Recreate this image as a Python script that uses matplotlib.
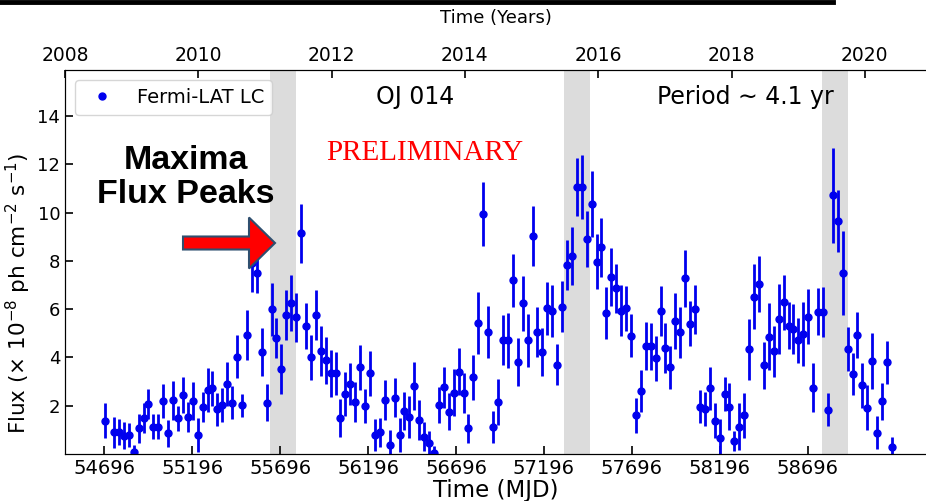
import matplotlib
matplotlib.use('Agg')
import matplotlib.pyplot as plt
import numpy as np
from matplotlib.patches import FancyArrow
from matplotlib.lines import Line2D

# 28 day bins of the Fermi-LAT light curve of OJ 014
mjd = [54700, 54751, 54779, 54807, 54835, 54863, 54891, 54919, 54947, 54975,
       55003, 55031, 55059, 55087, 55115, 55143, 55171, 55199, 55227, 55255,
       55283, 55311, 55339, 55367, 55395, 55423, 55451, 55479, 55507, 55535,
       55563, 55591, 55619, 55647, 55675, 55703, 55731, 55759, 55787, 55815,
       55843, 55871, 55899, 55927, 55955, 55983, 56011, 56039, 56067, 56095,
       56123, 56151, 56179, 56207, 56235, 56263, 56291, 56319, 56347, 56375,
       56403, 56431, 56459, 56487, 56515, 56543, 56571, 56599, 56627, 56655,
       56683, 56711, 56739, 56767, 56795, 56823, 56851, 56879, 56907, 56935,
       56963, 56991, 57019, 57047, 57075, 57103, 57131, 57159, 57187, 57215,
       57243, 57271, 57299, 57327, 57355, 57383, 57411, 57439, 57467, 57495,
       57523, 57551, 57579, 57607, 57635, 57663, 57691, 57719, 57747, 57775,
       57803, 57831, 57859, 57887, 57915, 57943, 57971, 57999, 58027, 58055,
       58083, 58111, 58139, 58167, 58195, 58223, 58251, 58279, 58307, 58335,
       58363, 58391, 58419, 58447, 58475, 58503, 58531, 58559, 58587, 58615,
       58643, 58671, 58699, 58727, 58755, 58783, 58811, 58839, 58867, 58895,
       58923, 58951, 58979, 59007, 59035, 59063, 59091, 59119, 59147, 59175]

flux = [1.38, 0.90, 0.92, 0.76, 0.79, 0.10, 1.06, 1.49, 2.07, 1.13,
        1.13, 2.19, 0.86, 2.22, 1.48, 2.44, 1.52, 2.19, 0.79, 1.96,
        2.65, 2.72, 1.85, 2.03, 2.90, 2.12, 4.03, 2.02, 4.93, 7.91,
        7.52, 4.24, 2.12, 5.99, 4.82, 3.53, 5.76, 6.24, 5.66, 9.14,
        5.30, 4.00, 5.76, 4.27, 3.89, 3.34, 3.34, 1.48, 2.48, 2.90,
        2.17, 3.59, 1.99, 3.34, 0.79, 0.90, 2.24, 0.37, 2.33, 0.79,
        1.78, 1.54, 2.82, 1.41, 0.72, 0.47, 0.05, 2.03, 2.76, 1.75,
        2.54, 3.41, 2.54, 1.06, 3.18, 5.44, 9.94, 5.05, 1.11, 2.14,
        4.72, 4.72, 7.20, 3.82, 6.24, 4.72, 9.03, 5.06, 4.24, 6.03,
        5.93, 3.69, 6.10, 7.83, 8.20, 11.07, 11.07, 8.89, 10.35, 7.96,
        8.56, 5.83, 7.34, 6.86, 5.93, 6.03, 4.90, 1.60, 2.62, 4.47,
        4.47, 3.96, 5.91, 4.38, 3.59, 5.51, 5.04, 7.28, 5.40, 5.99,
        1.96, 1.85, 2.72, 1.38, 0.67, 2.48, 1.96, 0.54, 1.13, 1.60,
        4.34, 6.51, 7.04, 3.67, 4.86, 4.25, 5.59, 6.29, 5.31, 5.18,
        4.72, 4.98, 5.69, 2.75, 5.89, 5.89, 1.83, 10.72, 9.64, 7.51,
        4.34, 3.31, 4.94, 2.84, 1.92, 3.86, 0.88, 2.18, 3.80, 0.30]

flux_err = [0.72, 0.64, 0.55, 0.55, 0.48, 0.28, 0.59, 0.62, 0.62, 0.52,
            0.52, 0.69, 0.55, 0.81, 0.52, 0.76, 0.62, 0.78, 0.69, 0.62,
            0.90, 0.72, 0.69, 0.69, 0.93, 0.69, 0.90, 0.48, 1.04, 1.20,
            0.85, 1.00, 0.76, 1.10, 0.83, 1.04, 1.04, 1.16, 1.02, 1.21,
            0.95, 0.93, 1.04, 1.04, 0.97, 0.97, 0.90, 0.79, 0.90, 0.88,
            0.83, 0.93, 0.69, 0.92, 0.67, 0.59, 0.83, 0.62, 0.81, 0.69,
            0.79, 0.86, 0.98, 0.83, 0.59, 0.48, 0.28, 0.76, 0.86, 0.76,
            0.97, 0.97, 0.83, 0.61, 0.93, 1.28, 1.32, 1.07, 0.66, 0.95,
            1.04, 1.14, 1.10, 1.00, 1.15, 1.10, 1.26, 1.04, 1.00, 1.08,
            1.07, 0.85, 1.06, 1.04, 1.19, 1.19, 1.33, 1.16, 1.36, 1.14,
            1.23, 1.07, 1.19, 1.02, 1.06, 0.95, 0.90, 0.71, 0.86, 1.01,
            0.97, 0.93, 1.04, 1.04, 0.90, 1.17, 1.06, 1.19, 0.93, 1.01,
            0.68, 0.70, 0.90, 0.72, 0.76, 0.69, 0.98, 0.40, 0.97, 0.92,
            1.26, 1.35, 1.17, 0.97, 1.38, 1.04, 1.44, 1.14, 0.97, 1.04,
            0.93, 1.33, 1.13, 1.02, 0.97, 1.05, 0.69, 1.97, 1.28, 1.74,
            0.92, 0.86, 0.95, 0.95, 0.93, 1.15, 0.68, 0.76, 0.90, 0.39]

# flux maxima windows (MJD start, end)
peak_windows = [(55638, 55786), (57310, 57458), (58777, 58925)]

mjd_ticks = [54696, 55196, 55696, 56196, 56696, 57196, 57696, 58196, 58696]
year_ticks = [2008, 2010, 2012, 2014, 2016, 2018, 2020]
flux_ticks = [2, 4, 6, 8, 10, 12, 14]

fig = plt.figure(figsize=(9.26, 5.01), dpi=100)
ax = fig.add_axes([0.0702, 0.0938, 0.9298, 0.766])

for start, end in peak_windows:
    ax.axvspan(start, end, color='#dcdcdc', zorder=0, lw=0)

ax.errorbar(mjd, flux, yerr=flux_err, fmt='none', ecolor='#0000ee', elinewidth=2, zorder=2)
ax.plot(mjd, flux, 'o', color='#0000ee', ms=5, zorder=3, label='Fermi-LAT LC')

ax.set_xlim(54472.5, 59368.7)
ax.set_ylim(0, 15.9)
ax.set_xticks(mjd_ticks)
ax.set_xticklabels([str(t) for t in mjd_ticks])
ax.set_yticks(flux_ticks)
ax.tick_params(direction='in', length=6, width=1.2, labelsize=14)
ax.tick_params(axis='y', labelsize=13)
ax.spines['right'].set_visible(False)
ax.set_xlabel('Time (MJD)', fontsize=16.5, labelpad=1)
ax.set_ylabel(r'Flux ($\times$ 10$^{-8}$ ph cm$^{-2}$ s$^{-1}$)', fontsize=15.5)
ax.yaxis.set_label_coords(-0.037, 0.42)

leg = ax.legend(loc='upper left', fontsize=14, markerscale=1.0)
leg.get_frame().set_edgecolor('#cccccc')

# top axis in years
ax2 = ax.twiny()
ax2.set_xlim(2008, 2008 + 861 / 66.65)
ax2.set_xticks(year_ticks)
ax2.tick_params(direction='in', length=6, width=1.2, labelsize=13.5)
ax2.spines['right'].set_visible(False)
ax2.set_xlabel('Time (Years)', fontsize=13, labelpad=17)

ax.text(0.4065, 0.93, 'OJ 014', transform=ax.transAxes, fontsize=17,
        ha='center', va='center')
ax.text(0.79, 0.93, 'Period \u223c 4.1 yr', transform=ax.transAxes, fontsize=17,
        ha='center', va='center')
ax.text(0.418, 0.784, 'PRELIMINARY', transform=ax.transAxes, fontsize=21,
        family='Liberation Serif', color='red', ha='center', va='center')
ax.text(0.1405, 0.72, 'Maxima\nFlux Peaks', transform=ax.transAxes, fontsize=24.5,
        family='Liberation Sans', weight='bold', ha='center', va='center',
        linespacing=1.15, zorder=5)

# arrow pointing at the first maximum (inches)
arrow = FancyArrow(1.83, 2.58, 0.92, 0, width=0.13, head_width=0.51, head_length=0.26,
                   length_includes_head=True, facecolor='#ff0000', edgecolor='#2f4f6f',
                   lw=1.5, transform=fig.dpi_scale_trans, zorder=6)
fig.add_artist(arrow)

# slide border line at the top
fig.add_artist(Line2D([0, 0.9], [0.997, 0.997], color='k', lw=3.5))

fig.savefig('out.png', dpi=100)
